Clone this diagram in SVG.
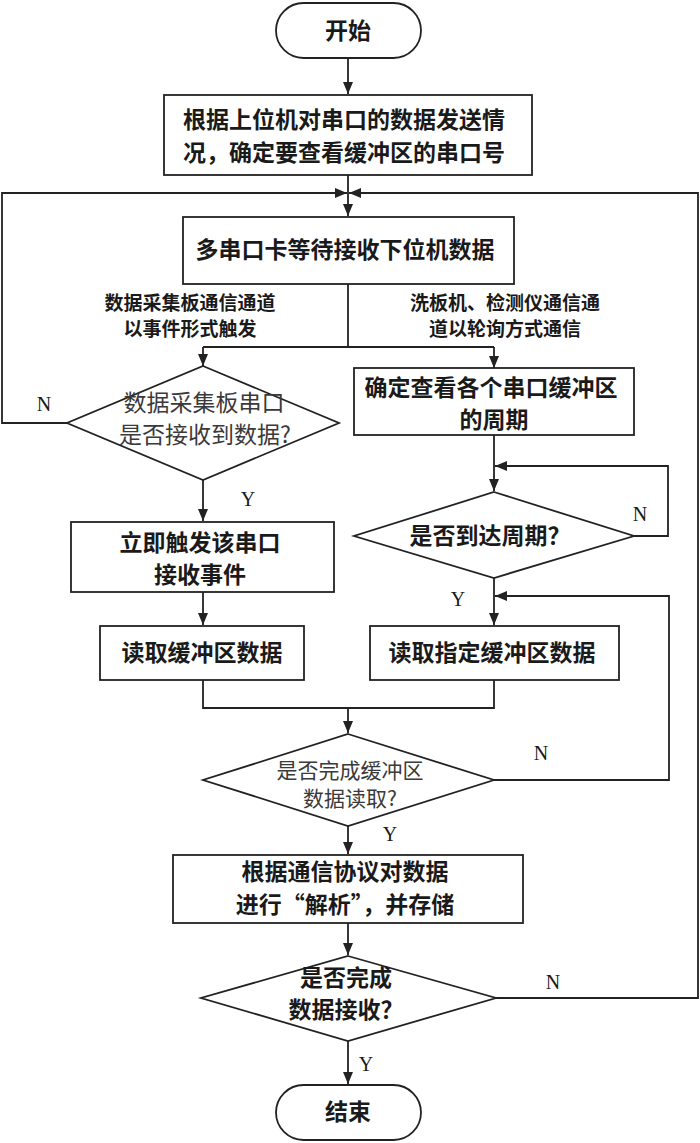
<svg xmlns="http://www.w3.org/2000/svg" width="700" height="1143" viewBox="0 0 700 1143">
<style>
.shape{fill:#fff;stroke:#222;stroke-width:1.8}
.t{font-family:"Noto Sans CJK SC","Liberation Serif",serif;font-size:23px;font-weight:bold;fill:#1a1a1a;text-anchor:middle}
.tl{font-family:"Noto Sans CJK SC","Liberation Serif",serif;font-size:23px;font-weight:normal;fill:#3a3a3a;text-anchor:middle}
.lab{font-family:"Noto Sans CJK SC","Liberation Serif",serif;font-size:19px;font-weight:bold;fill:#1a1a1a;text-anchor:middle}
.yn{font-family:"Liberation Serif",serif;font-size:20px;fill:#1a1a1a;text-anchor:middle}
.c{fill:none;stroke:#222;stroke-width:1.8}
</style>
<defs>
<marker id="ah" markerUnits="userSpaceOnUse" markerWidth="12" markerHeight="10" refX="12" refY="5" orient="auto">
<path d="M0,0 L12,5 L0,10 z" fill="#222"/>
</marker>
</defs>
<rect width="700" height="1143" fill="#fff"/>
<g id="connectors">
<path class="c" d="M348,58 V94" marker-end="url(#ah)"/>
<path class="c" d="M348,175 V216" marker-end="url(#ah)"/>
<path class="c" d="M67,423 H2 V193 H347" marker-end="url(#ah)"/>
<path class="c" d="M496,998 H698 V193 H349" marker-end="url(#ah)"/>
<path class="c" d="M348,284 V347"/>
<path class="c" d="M203,347 H494"/>
<path class="c" d="M203,347 V366" marker-end="url(#ah)"/>
<path class="c" d="M494,347 V368" marker-end="url(#ah)"/>
<path class="c" d="M203,480 V521" marker-end="url(#ah)"/>
<path class="c" d="M203,592 V625" marker-end="url(#ah)"/>
<path class="c" d="M494,435 V491" marker-end="url(#ah)"/>
<path class="c" d="M634,536 H668 V466 H495" marker-end="url(#ah)"/>
<path class="c" d="M494,577 V625" marker-end="url(#ah)"/>
<path class="c" d="M494,780 H669 V596 H495" marker-end="url(#ah)"/>
<path class="c" d="M203,680 V708 H494 V680"/>
<path class="c" d="M348,708 V733" marker-end="url(#ah)"/>
<path class="c" d="M348,826 V854" marker-end="url(#ah)"/>
<path class="c" d="M348,923 V955" marker-end="url(#ah)"/>
<path class="c" d="M348,1041 V1084" marker-end="url(#ah)"/>
<text class="lab" x="190" y="310">数据采集板通信通道</text>
<text class="lab" x="190" y="336">以事件形式触发</text>
<text class="lab" x="505" y="310">洗板机、检测仪通信通</text>
<text class="lab" x="505" y="336">道以轮询方式通信</text>
<text class="yn" x="44" y="411">N</text>
<text class="yn" x="248" y="506">Y</text>
<text class="yn" x="640" y="521">N</text>
<text class="yn" x="458" y="606">Y</text>
<text class="yn" x="541" y="760">N</text>
<text class="yn" x="390" y="841">Y</text>
<text class="yn" x="553" y="989">N</text>
<text class="yn" x="366" y="1071">Y</text>
</g>
<g id="start">
<rect class="shape" x="276" y="3" width="145" height="55" rx="27.5"/>
<text class="t" x="348" y="39">开始</text>
</g>
<g id="box1">
<rect class="shape" x="164" y="95" width="368" height="80"/>
<text class="t" x="344" y="128">根据上位机对串口的数据发送情</text>
<text class="t" x="344" y="161">况，确定要查看缓冲区的串口号</text>
</g>
<g id="box2">
<rect class="shape" x="183" y="217" width="331" height="67"/>
<text class="t" x="345" y="258">多串口卡等待接收下位机数据</text>
</g>
<g id="dec1">
<polygon class="shape" points="203,366 339,423 203,480 67,423"/>
<text class="tl" x="204" y="411">数据采集板串口</text>
<text class="tl" x="205" y="443">是否接收到数据?</text>
</g>
<g id="box3">
<rect class="shape" x="354" y="368" width="280" height="67"/>
<text class="t" x="491" y="396">确定查看各个串口缓冲区</text>
<text class="t" x="494" y="428">的周期</text>
</g>
<g id="dec2">
<polygon class="shape" points="494,492 634,536 494,578 354,536"/>
<text class="t" x="490" y="544">是否到达周期？</text>
</g>
<g id="box4">
<rect class="shape" x="71" y="522" width="263" height="70"/>
<text class="t" x="200" y="551">立即触发该串口</text>
<text class="t" x="200" y="583">接收事件</text>
</g>
<g id="box5">
<rect class="shape" x="100" y="626" width="204" height="54"/>
<text class="t" x="202" y="661">读取缓冲区数据</text>
</g>
<g id="box6">
<rect class="shape" x="370" y="626" width="249" height="54"/>
<text class="t" x="492" y="661">读取指定缓冲区数据</text>
</g>
<g id="dec3">
<polygon class="shape" points="348,734 494,780 348,826 203,780"/>
<text class="tl" x="350" y="778" style="font-size:21px">是否完成缓冲区</text>
<text class="tl" x="350" y="806" style="font-size:21px">数据读取?</text>
</g>
<g id="box7">
<rect class="shape" x="173" y="855" width="350" height="68"/>
<text class="t" x="345" y="880">根据通信协议对数据</text>
<text class="t" x="345" y="913">进行“解析”，并存储</text>
</g>
<g id="dec4">
<polygon class="shape" points="348,956 496,998 348,1041 201,998"/>
<text class="t" x="346" y="986">是否完成</text>
<text class="t" x="346" y="1018">数据接收？</text>
</g>
<g id="end">
<rect class="shape" x="276" y="1085" width="145" height="55" rx="27.5"/>
<text class="t" x="348" y="1120">结束</text>
</g>
</svg>
